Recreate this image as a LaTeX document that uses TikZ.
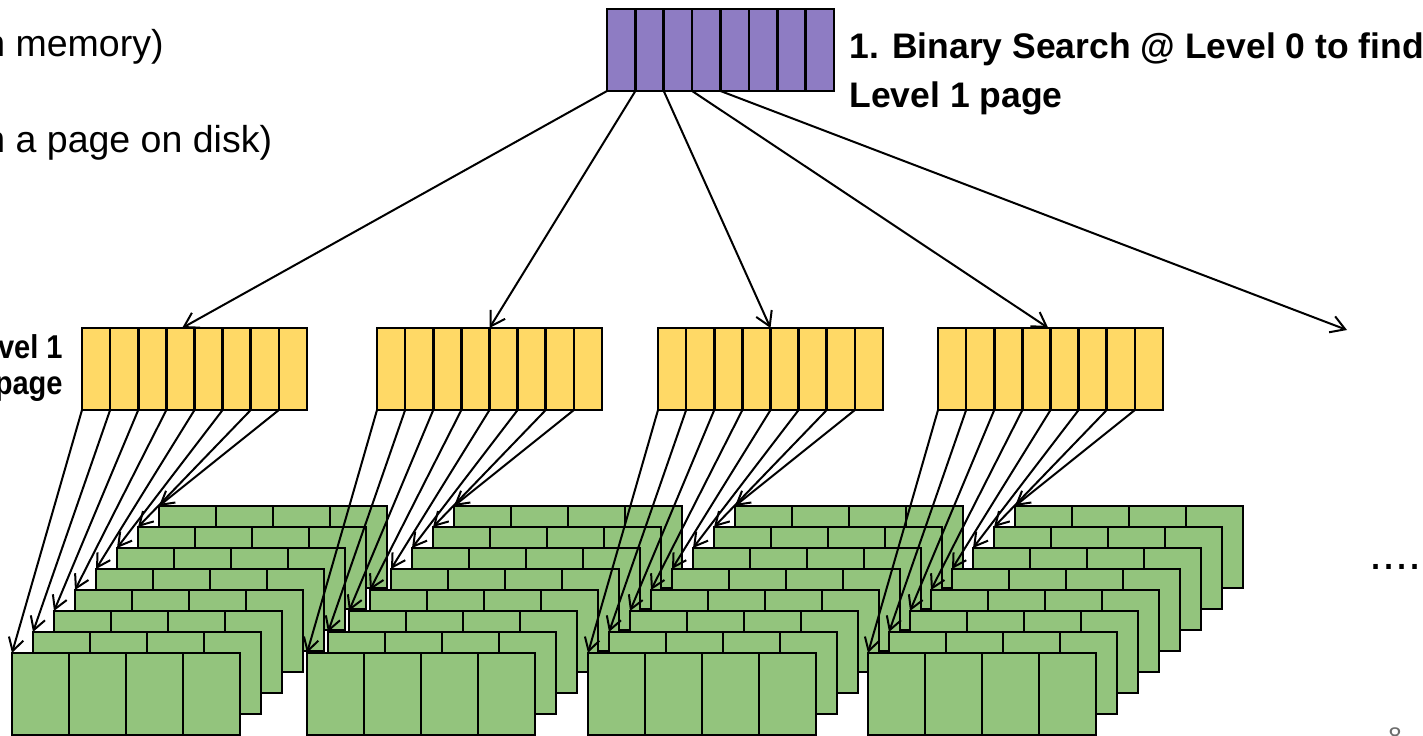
\documentclass[tikz,border=0pt]{standalone}
\usepackage{fontspec}
\setmainfont{Liberation Sans}
\newfontfamily\narrowsans{Liberation Sans}[FakeStretch=0.88]
\usetikzlibrary{arrows.meta,calc}

\definecolor{lvlzero}{HTML}{8E7CC3}
\definecolor{lvlone}{HTML}{FFD966}
\definecolor{leafpage}{HTML}{93C47D}
\definecolor{slidenum}{HTML}{6B6B6B}

\tikzset{
  keybox/.style={draw=black, line width=1.35pt, inner sep=0pt, outer sep=0pt,
                 minimum width=112.5pt, minimum height=41pt, anchor=north west},
  rootbox/.style={keybox, fill=lvlzero, minimum width=113.5pt},
  innerbox/.style={keybox, fill=lvlone},
  leafbox/.style={keybox, fill=leafpage, minimum width=114pt},
  divider/.style={line width=1.35pt},
  ptr/.style={line width=1pt, -{Straight Barb[length=7pt,width=8.5pt]}},
  leafptr/.style={line width=1pt, -{Straight Barb[length=6.5pt,width=7.5pt]}},
  regtext/.style={font=\fontsize{18.75}{22}\selectfont, inner sep=0pt},
  boldtext/.style={font=\bfseries\fontsize{17.75}{21}\selectfont, inner sep=0pt},
  sidelabel/.style={font=\narrowsans\bfseries\fontsize{16.5}{19}\selectfont, inner sep=0pt},
}

\begin{document}
\begin{tikzpicture}[x=0.5pt,y=-0.5pt]
\useasboundingbox (0,0) rectangle (1423,735);

% captions
\node[regtext, anchor=base west] (memline) at (-16,56) {n memory)};
\node[regtext, anchor=base west] (diskline) at (-16,152) {n a page on disk)};
\node[boldtext, anchor=base west] (step1a) at (849,58) {1. Binary Search @ Level 0 to find};
\node[boldtext, anchor=base west] (step1b) at (849,107) {Level 1 page};
\node[sidelabel, anchor=base east] (lvl1a) at (63,358) {Level 1};
\node[sidelabel, anchor=base east] (lvl1b) at (63,394) {page};
\node[font=\fontsize{23.5}{26}\selectfont, inner sep=0pt, anchor=base west] (etc) at (1369,569) {....};
\node[font=\fontsize{12}{14}\selectfont, text=slidenum, inner sep=0pt, anchor=base west] (slideno) at (1388,744) {8};

% level 0 page (in memory)
\node[rootbox] (root) at (607,9) {};
\foreach \k in {1,...,7}
  \draw[divider] ($(root.north west)!\k/8!(root.north east)$) -- ($(root.south west)!\k/8!(root.south east)$);

% level 1 pages and their stacks of leaf pages
\foreach \i/\fx in {1/12, 2/307, 3/588, 4/868}{
  \node[innerbox] (L\i) at (\fx+70,328) {};
  \foreach \k in {1,...,7}
    \draw[divider] ($(L\i.north west)!\k/8!(L\i.north east)$) -- ($(L\i.south west)!\k/8!(L\i.south east)$);
  \foreach \k in {7,6,...,0}{
    \node[leafbox] (P\i\k) at (\fx+21*\k,653-21*\k) {};
    \foreach \c in {1,2,3}
      \draw[divider] ($(P\i\k.north west)!\c/4!(P\i\k.north east)$) -- ($(P\i\k.south west)!\c/4!(P\i\k.south east)$);
  }
}

% pointers from level 0 to level 1
\coordinate (more) at (1347,330);
\draw[ptr] (root.south west) -- ($(L1.north west)!0.445!(L1.north east)$);
\draw[ptr] ($(root.south west)!1/8!(root.south east)$) -- ($(L2.north west)!0.5!(L2.north east)$);
\draw[ptr] ($(root.south west)!2/8!(root.south east)$) -- ($(L3.north west)!0.5!(L3.north east)$);
\draw[ptr] ($(root.south west)!3/8!(root.south east)$) -- ($(L4.north west)!0.49!(L4.north east)$);
\draw[ptr] ($(root.south west)!4/8!(root.south east)$) -- (more);

% pointers from level 1 to leaf pages
\foreach \i in {1,...,4}
  \foreach \k in {0,...,7}
    \draw[leafptr] ($(L\i.south west)!\k/8!(L\i.south east)$) -- (P\i\k.north west);
\end{tikzpicture}
\end{document}
